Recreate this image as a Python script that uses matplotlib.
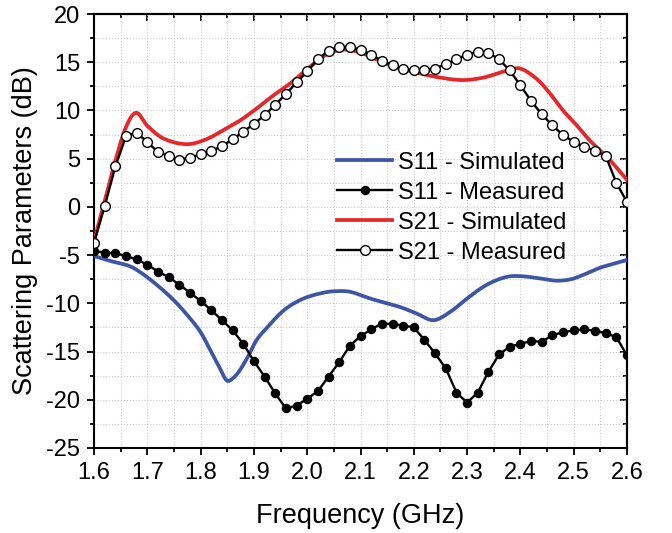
import numpy as np
import matplotlib
matplotlib.use("Agg")
import matplotlib.pyplot as plt
from matplotlib.ticker import MultipleLocator

plt.rcParams['font.family'] = ['Liberation Sans', 'DejaVu Sans']

# measured frequency grid (GHz)
f_meas = [1.60, 1.62, 1.64, 1.66, 1.68, 1.70, 1.72, 1.74, 1.76, 1.78,
          1.80, 1.82, 1.84, 1.86, 1.88, 1.90, 1.92, 1.94, 1.96, 1.98,
          2.00, 2.02, 2.04, 2.06, 2.08, 2.10, 2.12, 2.14, 2.16, 2.18,
          2.20, 2.22, 2.24, 2.26, 2.28, 2.30, 2.32, 2.34, 2.36, 2.38,
          2.40, 2.42, 2.44, 2.46, 2.48, 2.50, 2.52, 2.54, 2.56, 2.58, 2.60]

s11_meas = [-4.55, -4.75, -4.8, -5.1, -5.45, -6.0, -6.7, -7.3, -8.05, -8.9,
            -9.75, -10.7, -11.75, -12.8, -14.2, -16.0, -17.6, -19.35, -20.9, -20.6,
            -19.9, -19.1, -17.6, -16.1, -14.4, -13.4, -12.7, -12.1, -12.15, -12.3,
            -12.5, -13.8, -15.2, -16.75, -19.25, -20.3, -19.25, -17.1, -15.3, -14.5,
            -14.2, -13.9, -14.0, -13.3, -13.0, -12.8, -12.7, -12.85, -13.1, -13.5, -15.4]

s21_meas = [-3.7, 0.1, 4.2, 7.35, 7.7, 6.7, 5.7, 5.3, 4.9, 5.1,
            5.45, 5.8, 6.3, 7.0, 7.8, 8.6, 9.5, 10.6, 11.7, 12.9,
            14.05, 15.3, 16.2, 16.6, 16.6, 16.3, 15.8, 15.15, 14.7, 14.3,
            14.2, 14.2, 14.35, 14.8, 15.3, 15.8, 16.1, 16.0, 15.3, 14.15,
            12.6, 11.0, 9.6, 8.45, 7.45, 6.75, 6.25, 5.8, 5.3, 2.5, 0.5]

# simulated curves (read at key frequencies)
f_s11_sim = [1.60, 1.63, 1.667, 1.69, 1.718, 1.75, 1.78, 1.80, 1.818, 1.835, 1.849,
             1.862, 1.874, 1.89, 1.905, 1.925, 1.943, 1.96, 1.98, 2.00, 2.03, 2.05,
             2.08, 2.118, 2.143, 2.175, 2.205, 2.237, 2.268, 2.30, 2.33, 2.355, 2.38,
             2.405, 2.435, 2.468, 2.495, 2.518, 2.55, 2.575, 2.60]
s11_sim = [-5.1, -5.6, -6.15, -6.9, -8.1, -9.7, -11.55, -13.0, -14.85, -16.6, -18.0,
           -17.7, -16.9, -15.4, -13.8, -12.5, -11.4, -10.55, -9.85, -9.35, -8.9, -8.75,
           -8.8, -9.5, -9.9, -10.4, -11.05, -11.75, -10.9, -9.5, -8.3, -7.6, -7.2,
           -7.2, -7.4, -7.65, -7.5, -7.05, -6.3, -5.9, -5.5]

f_s21_sim = [1.60, 1.62, 1.64, 1.66, 1.679, 1.70, 1.73, 1.774, 1.81, 1.843, 1.875,
             1.905, 1.935, 1.968, 2.00, 2.03, 2.055, 2.074, 2.10, 2.13, 2.16, 2.20,
             2.24, 2.29, 2.33, 2.36, 2.38, 2.40, 2.43, 2.455, 2.48, 2.505, 2.53,
             2.568, 2.60]
s21_sim = [-3.5, 0.6, 4.8, 8.3, 9.76, 8.4, 7.1, 6.5, 7.0, 7.97, 9.0,
           10.2, 11.5, 12.8, 14.3, 15.6, 16.2, 16.3, 16.0, 15.3, 14.6, 14.0,
           13.5, 13.15, 13.4, 13.9, 14.2, 14.35, 13.3, 11.8, 10.0, 8.5, 6.9,
           4.85, 2.8]

x_ticks = [1.6, 1.7, 1.8, 1.9, 2.0, 2.1, 2.2, 2.3, 2.4, 2.5, 2.6]
y_ticks = [-25, -20, -15, -10, -5, 0, 5, 10, 15, 20]


def smooth(xk, yk, n=400):
    xk = np.asarray(xk, float)
    yk = np.asarray(yk, float)
    xs = np.linspace(xk[0], xk[-1], n)
    out = np.empty_like(xs)
    m = np.zeros_like(yk)
    for i in range(len(xk)):
        if i == 0:
            m[i] = (yk[1] - yk[0]) / (xk[1] - xk[0])
        elif i == len(xk) - 1:
            m[i] = (yk[-1] - yk[-2]) / (xk[-1] - xk[-2])
        else:
            m[i] = (yk[i + 1] - yk[i - 1]) / (xk[i + 1] - xk[i - 1])
    idx = np.clip(np.searchsorted(xk, xs) - 1, 0, len(xk) - 2)
    for j, x in enumerate(xs):
        i = idx[j]
        h = xk[i + 1] - xk[i]
        t = (x - xk[i]) / h
        h00 = 2 * t**3 - 3 * t**2 + 1
        h10 = t**3 - 2 * t**2 + t
        h01 = -2 * t**3 + 3 * t**2
        h11 = t**3 - t**2
        out[j] = h00 * yk[i] + h10 * h * m[i] + h01 * yk[i + 1] + h11 * h * m[i + 1]
    return xs, out


fig = plt.figure(figsize=(6.72, 5.33), dpi=100)
ax = fig.add_axes([0.140, 0.1595, 0.793, 0.8142])

xs, ys = smooth(f_s11_sim, s11_sim)
ax.plot(xs, ys, color='#3c55a5', lw=2.7, label='S11 - Simulated', zorder=3)
ax.plot(f_meas, s11_meas, color='black', lw=1.7, marker='o', ms=5.8,
        mfc='black', mec='black', label='S11 - Measured', zorder=4)
xs, ys = smooth(f_s21_sim, s21_sim)
ax.plot(xs, ys, color='#e8262a', lw=2.7, label='S21 - Simulated', zorder=3)
ax.plot(f_meas, s21_meas, color='black', lw=1.7, marker='o', ms=7.0,
        mfc='white', mec='black', mew=1.0, label='S21 - Measured', zorder=4)

ax.set_xlim(1.6, 2.6)
ax.set_ylim(-25, 20)
ax.set_xticks(x_ticks)
ax.set_xticklabels([f"{v:.1f}" for v in x_ticks])
ax.set_yticks(y_ticks)
ax.set_yticklabels([f"{v}" for v in y_ticks])
ax.xaxis.set_minor_locator(MultipleLocator(0.05))
ax.yaxis.set_minor_locator(MultipleLocator(2.5))
ax.tick_params(which='both', direction='out', width=1.3)
ax.tick_params(which='major', length=5, labelsize=17, pad=5)
ax.tick_params(which='minor', length=3)
for s in ax.spines.values():
    s.set_linewidth(1.5)
ax.grid(True, which='both', color='#cccccc', ls=':', lw=0.8)
ax.set_axisbelow(True)

# mirrored inward ticks on top and right
top = ax.secondary_xaxis('top')
top.set_xticks(x_ticks)
top.xaxis.set_minor_locator(MultipleLocator(0.05))
top.tick_params(which='both', direction='in', width=1.3, labeltop=False)
top.tick_params(which='major', length=5)
top.tick_params(which='minor', length=3)
right = ax.secondary_yaxis('right')
right.set_yticks(y_ticks)
right.yaxis.set_minor_locator(MultipleLocator(2.5))
right.tick_params(which='both', direction='in', width=1.3, labelright=False)
right.tick_params(which='major', length=5)
right.tick_params(which='minor', length=3)
for sa in (top, right):
    for s in sa.spines.values():
        s.set_linewidth(1.5)

ax.set_xlabel('Frequency (GHz)', fontsize=19.5, labelpad=14)
ax.set_ylabel('Scattering Parameters (dB)', fontsize=19.5, labelpad=6)

leg = ax.legend(loc='upper left', bbox_to_anchor=(0.456, 0.683), frameon=False,
                fontsize=17, handlelength=2.33, handletextpad=0.25,
                labelspacing=0.34, borderpad=0.0, borderaxespad=0.0)

fig.savefig('out.png', dpi=100)
